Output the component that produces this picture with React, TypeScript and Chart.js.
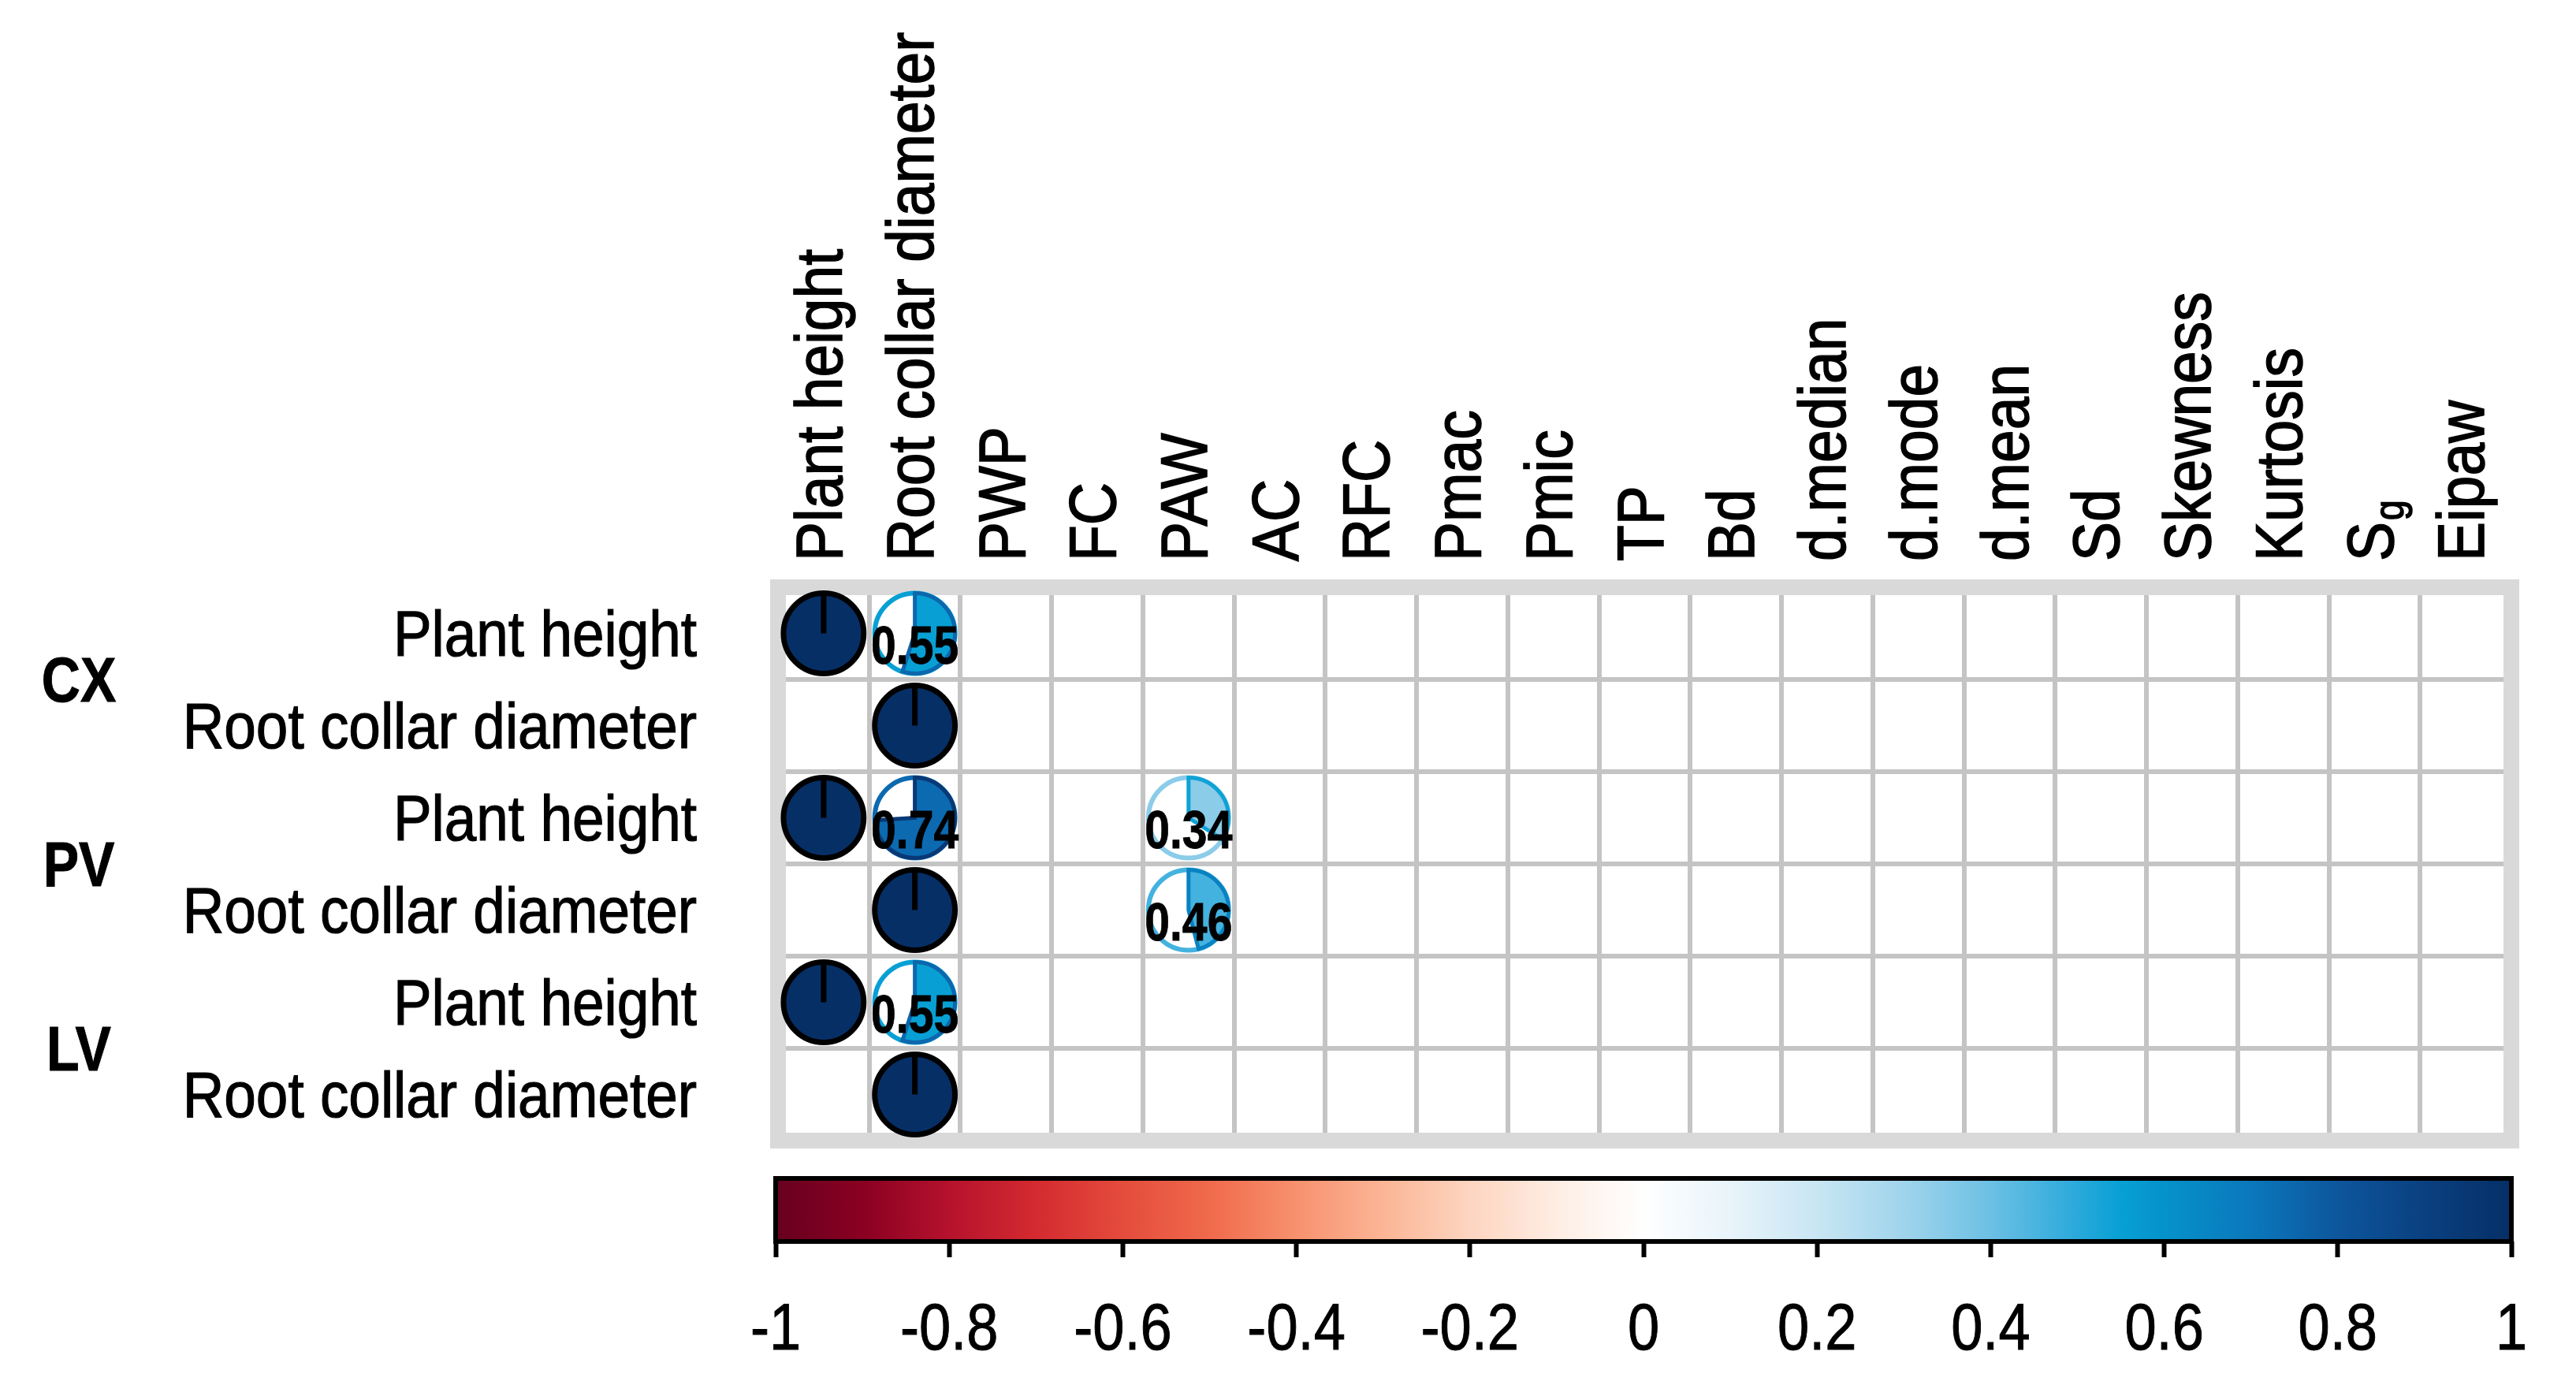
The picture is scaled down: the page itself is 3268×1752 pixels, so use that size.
import React, { useEffect, useRef } from 'react';
import { Chart, registerables } from 'chart.js';

Chart.register(...registerables);

// ---------- data ----------
const COL_LABELS = [
  'Plant height', 'Root collar diameter', 'PWP', 'FC', 'PAW', 'AC', 'RFC', 'Pmac', 'Pmic',
  'TP', 'Bd', 'd.median', 'd.mode', 'd.mean', 'Sd', 'Skewness', 'Kurtosis', 'S_g', 'Eipaw',
];
const GROUP_LABELS = ['CX', 'PV', 'LV'];
const ROW_LABELS = ['Plant height', 'Root collar diameter'];

// one row per (group, variable); null = blank cell
const CX_PLANT_HEIGHT = [1, 0.55, null, null, null, null, null, null, null, null, null, null, null, null, null, null, null, null, null];
const CX_ROOT_COLLAR = [null, 1, null, null, null, null, null, null, null, null, null, null, null, null, null, null, null, null, null];
const PV_PLANT_HEIGHT = [1, 0.74, null, null, 0.34, null, null, null, null, null, null, null, null, null, null, null, null, null, null];
const PV_ROOT_COLLAR = [null, 1, null, null, 0.46, null, null, null, null, null, null, null, null, null, null, null, null, null, null];
const LV_PLANT_HEIGHT = [1, 0.55, null, null, null, null, null, null, null, null, null, null, null, null, null, null, null, null, null];
const LV_ROOT_COLLAR = [null, 1, null, null, null, null, null, null, null, null, null, null, null, null, null, null, null, null, null];

const COLORBAR_TICKS = [-1, -0.8, -0.6, -0.4, -0.2, 0, 0.2, 0.4, 0.6, 0.8, 1];

const CMAP_VALUES = [-1, -0.9, -0.8, -0.7, -0.6, -0.5, -0.4, -0.3, -0.2, -0.1, 0, 0.1, 0.2, 0.3, 0.4, 0.5, 0.55, 0.6, 0.7, 0.8, 0.9, 1];
const CMAP_COLORS = [
  '#67001F', '#8A0022', '#B5122C', '#D42A30', '#E44C3C', '#F06A4C', '#F7916E', '#FBB596', '#FDD5C0', '#FEEDE3',
  '#FFFFFF', '#E8F4FA', '#C8E6F3', '#A0D4EC', '#6CC0E4', '#2AA9DB', '#08A0D4', '#0592CA', '#0B78BC', '#0D569D', '#0A4080', '#062F66',
];

// ---------- helpers ----------
const MATRIX = [CX_PLANT_HEIGHT, CX_ROOT_COLLAR, PV_PLANT_HEIGHT, PV_ROOT_COLLAR, LV_PLANT_HEIGHT, LV_ROOT_COLLAR];
const ROW_KEYS = GROUP_LABELS.flatMap((g) => ROW_LABELS.map((r) => `${g}|${r}`));

const SANS = '"Liberation Sans", Arial, sans-serif';

function hexToRgb(h: string) {
  const n = parseInt(h.slice(1), 16);
  return [(n >> 16) & 255, (n >> 8) & 255, n & 255];
}
function cmap(v: number) {
  const x = Math.max(-1, Math.min(1, v));
  for (let i = 0; i < CMAP_VALUES.length - 1; i++) {
    const a = CMAP_VALUES[i];
    const b = CMAP_VALUES[i + 1];
    if (x >= a && x <= b) {
      const t = (x - a) / (b - a);
      const c0 = hexToRgb(CMAP_COLORS[i]);
      const c1 = hexToRgb(CMAP_COLORS[i + 1]);
      const c = c0.map((c, k) => Math.round(c + (c1[k] - c) * t));
      return `rgb(${c[0]},${c[1]},${c[2]})`;
    }
  }
  return CMAP_COLORS[CMAP_COLORS.length - 1];
}

// text drawn with a horizontal squeeze (narrow look)
function narrowText(ctx: CanvasRenderingContext2D, text: string, x: number, y: number, font: string, sx: number, align: CanvasTextAlign, stroke = 0) {
  ctx.save();
  ctx.translate(x, y);
  ctx.scale(sx, 1);
  ctx.font = font;
  ctx.textAlign = align;
  ctx.textBaseline = 'middle';
  ctx.fillStyle = '#000';
  ctx.fillText(text, 0, 0);
  if (stroke > 0) {
    ctx.lineWidth = stroke;
    ctx.strokeStyle = '#000';
    ctx.strokeText(text, 0, 0);
  }
  ctx.restore();
}

function drawPie(ctx: CanvasRenderingContext2D, x: number, y: number, r: number, v: number) {
  const col = cmap(v);
  const start = -Math.PI / 2;
  ctx.save();
  if (Math.abs(v) >= 0.999) {
    ctx.beginPath();
    ctx.arc(x, y, r, 0, Math.PI * 2);
    ctx.fillStyle = col;
    ctx.fill();
    ctx.lineWidth = 7;
    ctx.strokeStyle = '#000';
    ctx.stroke();
    ctx.beginPath();
    ctx.moveTo(x, y);
    ctx.lineTo(x, y - r);
    ctx.lineWidth = 7;
    ctx.stroke();
  } else {
    const end = start + Math.PI * 2 * Math.abs(v) * (v >= 0 ? 1 : -1);
    ctx.beginPath();
    ctx.arc(x, y, r, 0, Math.PI * 2);
    ctx.lineWidth = 6;
    ctx.strokeStyle = col;
    ctx.stroke();
    ctx.beginPath();
    ctx.moveTo(x, y);
    ctx.arc(x, y, r, start, end, v < 0);
    ctx.closePath();
    ctx.fillStyle = col;
    ctx.fill();
    ctx.lineWidth = 5;
    ctx.strokeStyle = cmap(v >= 0 ? Math.min(1, v + 0.2) : Math.max(-1, v - 0.2));
    ctx.stroke();
    narrowText(ctx, v.toFixed(2), x, y + 20, `bold 68px ${SANS}`, 0.84, 'center', 0.8);
  }
  ctx.restore();
}

const matrixPlugin = {
  id: 'corrMatrix',
  beforeDatasetsDraw(chart: any) {
    const { ctx, chartArea: a } = chart;
    ctx.save();
    ctx.strokeStyle = '#d9d9d9';
    ctx.lineWidth = 20;
    ctx.strokeRect(a.left, a.top, a.right - a.left, a.bottom - a.top);
    ctx.restore();
  },
  afterDatasetsDraw(chart: any) {
    const { ctx, chartArea: a } = chart;
    const xs = chart.scales.x;
    const ys = chart.scales.y;
    const cell = xs.getPixelForValue(1) - xs.getPixelForValue(0);
    const R = cell * 0.44;
    const meta = chart.getDatasetMeta(0);
    const data = chart.data.datasets[0].data;
    meta.data.forEach((pt: any, i: number) => {
      drawPie(ctx, pt.x, pt.y, R, data[i].v);
    });

    // column labels (rotated, reading upward)
    COL_LABELS.forEach((lab, i) => {
      const x = xs.getPixelForValue(i);
      const y0 = a.top - 33;
      ctx.save();
      ctx.translate(x, y0);
      ctx.rotate(-Math.PI / 2);
      ctx.scale(1, 1.12);
      ctx.textAlign = 'left';
      ctx.textBaseline = 'middle';
      ctx.fillStyle = '#000';
      ctx.strokeStyle = '#000';
      ctx.lineWidth = 1.4;
      ctx.font = `75px ${SANS}`;
      const parts = lab.split('_');
      ctx.fillText(parts[0], 0, 0);
      ctx.strokeText(parts[0], 0, 0);
      if (parts[1]) {
        const w = ctx.measureText(parts[0]).width;
        ctx.font = `46px ${SANS}`;
        ctx.fillText(parts[1], w + 2, 20);
        ctx.strokeText(parts[1], w + 2, 20);
      }
      ctx.restore();
    });

    // row labels
    ROW_KEYS.forEach((key, r) => {
      const y = ys.getPixelForValue(r);
      narrowText(ctx, key.split('|')[1], a.left - 103, y + 6, `81px ${SANS}`, 0.9, 'right', 1.2);
    });

    // group labels
    GROUP_LABELS.forEach((g, gi) => {
      const y1 = ys.getPixelForValue(gi * 2);
      const y2 = ys.getPixelForValue(gi * 2 + 1);
      narrowText(ctx, g, 100, (y1 + y2) / 2 + 6, `bold 80px ${SANS}`, 0.85, 'center', 1);
    });
  },
};

const colorbarPlugin = {
  id: 'colorbar',
  afterDatasetsDraw(chart: any) {
    const { ctx, chartArea: a } = chart;
    const xs = chart.scales.x;
    const x0 = xs.getPixelForValue(-1);
    const x1 = xs.getPixelForValue(1);
    ctx.save();
    const g = ctx.createLinearGradient(x0, 0, x1, 0);
    CMAP_VALUES.forEach((v, i) => g.addColorStop((v + 1) / 2, CMAP_COLORS[i]));
    ctx.fillStyle = g;
    ctx.fillRect(x0, a.top, x1 - x0, a.bottom - a.top);
    ctx.strokeStyle = '#000';
    ctx.lineWidth = 6;
    ctx.strokeRect(x0, a.top, x1 - x0, a.bottom - a.top);
    ctx.restore();
    COLORBAR_TICKS.forEach((v) => {
      const x = xs.getPixelForValue(v);
      narrowText(ctx, String(Math.round(v * 10) / 10), x, a.bottom + 114, `84px ${SANS}`, 0.86, 'center', 1);
    });
  },
};

const W = 3268;
const H = 1752;
const MAIN_H = 1507;
const BAR_TOP = 1450;
const BAR_H = H - BAR_TOP;

export default function App() {
  const mainRef = useRef<HTMLCanvasElement>(null);
  const barRef = useRef<HTMLCanvasElement>(null);

  useEffect(() => {
    const points: any[] = [];
    MATRIX.forEach((row, r) => {
      row.forEach((v, c) => {
        if (v !== null) points.push({ x: COL_LABELS[c], y: ROW_KEYS[r], v });
      });
    });

    const main = new Chart(mainRef.current as HTMLCanvasElement, {
      type: 'scatter',
      data: { datasets: [{ data: points, pointRadius: 0, pointHoverRadius: 0 }] as any },
      options: {
        animation: false,
        responsive: false,
        devicePixelRatio: 1,
        events: [],
        layout: { padding: { left: 0, top: 0, right: 82, bottom: 60 } },
        plugins: { legend: { display: false }, tooltip: { enabled: false } },
        scales: {
          x: {
            type: 'category',
            labels: COL_LABELS,
            position: 'top',
            offset: true,
            grid: { offset: true, color: '#c4c4c4', lineWidth: 6, drawTicks: false },
            border: { display: false },
            ticks: { display: false },
            afterFit: (s: any) => { s.height = 745; s.paddingLeft = 0; s.paddingRight = 0; },
          } as any,
          y: {
            type: 'category',
            labels: ROW_KEYS,
            position: 'left',
            offset: true,
            grid: { offset: true, color: '#c4c4c4', lineWidth: 6, drawTicks: false },
            border: { display: false },
            ticks: { display: false },
            afterFit: (s: any) => { s.width = 987; s.paddingTop = 0; s.paddingBottom = 0; },
          } as any,
        },
      },
      plugins: [matrixPlugin],
    });

    const bar = new Chart(barRef.current as HTMLCanvasElement, {
      type: 'scatter',
      data: { datasets: [{ data: [] }] },
      options: {
        animation: false,
        responsive: false,
        devicePixelRatio: 1,
        events: [],
        layout: { padding: { left: 984, right: 82, top: 45, bottom: 0 } },
        plugins: { legend: { display: false }, tooltip: { enabled: false } },
        scales: {
          x: {
            type: 'linear',
            position: 'bottom',
            min: -1,
            max: 1,
            afterBuildTicks: (s: any) => { s.ticks = COLORBAR_TICKS.map((v) => ({ value: v })); },
            ticks: { display: false },
            grid: { drawOnChartArea: false, drawTicks: true, tickLength: 20, tickWidth: 6, tickColor: '#000' },
            border: { display: false },
            afterFit: (s: any) => { s.height = 177; s.paddingLeft = 0; s.paddingRight = 0; },
          } as any,
          y: { display: false, min: 0, max: 1 },
        },
      },
      plugins: [colorbarPlugin],
    });

    return () => {
      main.destroy();
      bar.destroy();
    };
  }, []);

  return (
    <div style={{ position: 'fixed', left: 0, top: 0, width: W, height: H, background: '#fff', overflow: 'hidden' }}>
      <canvas ref={mainRef} width={W} height={MAIN_H} style={{ position: 'absolute', left: 0, top: 0, width: W, height: MAIN_H }} />
      <canvas ref={barRef} width={W} height={BAR_H} style={{ position: 'absolute', left: 0, top: BAR_TOP, width: W, height: BAR_H }} />
    </div>
  );
}
